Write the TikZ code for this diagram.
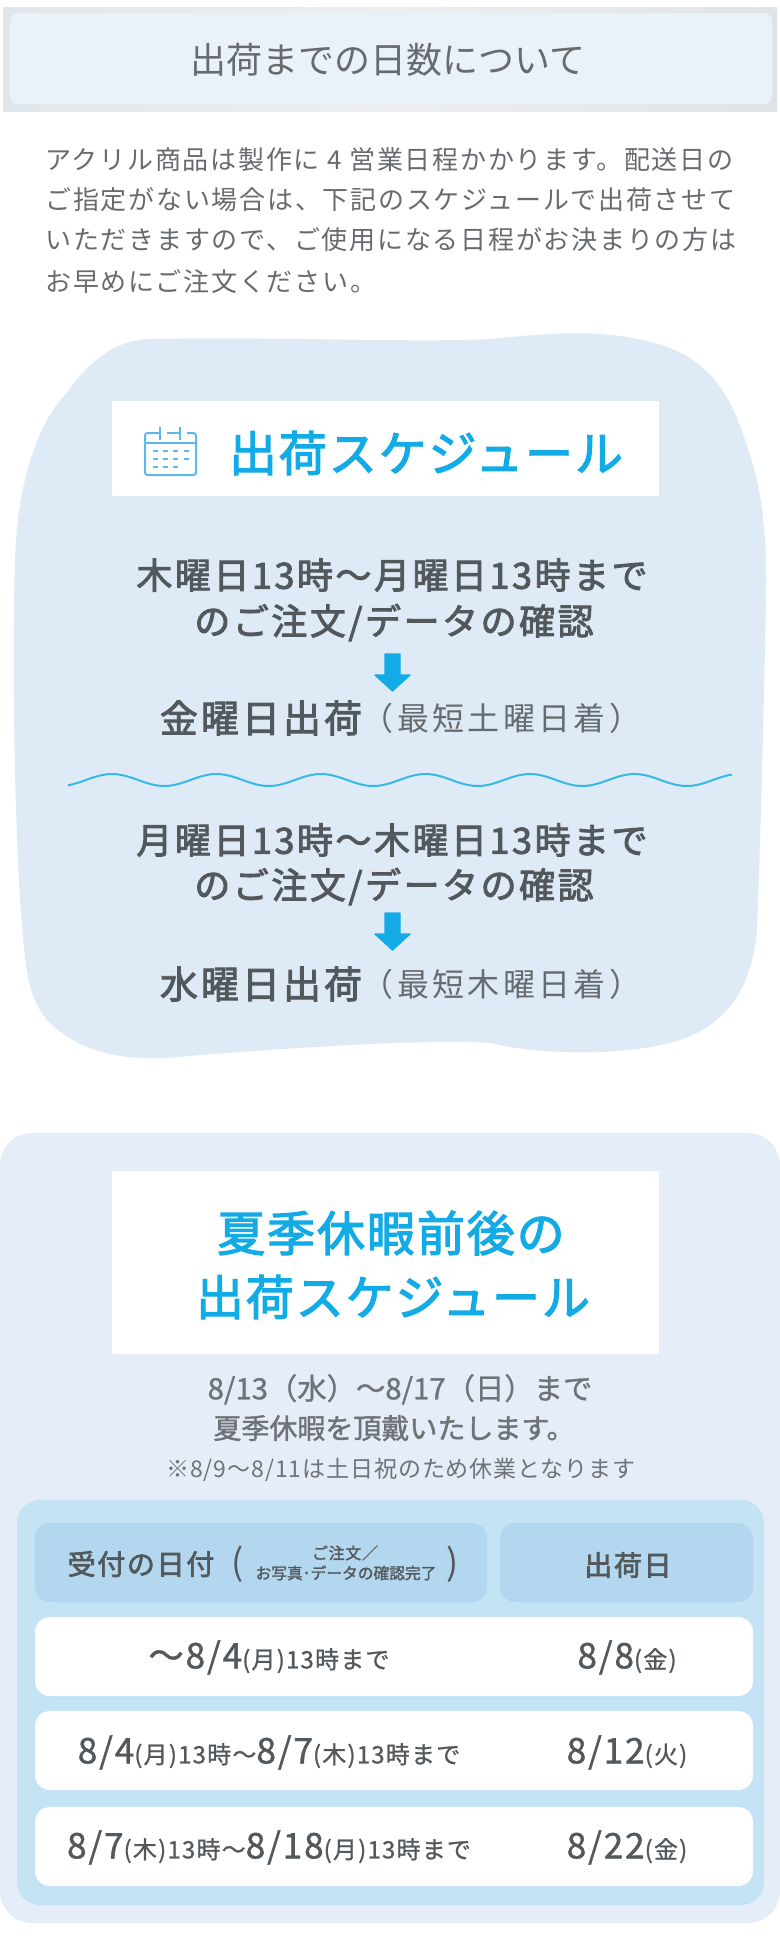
\documentclass[tikz,border=0pt]{standalone}
\usepackage{fontspec}
\setmainfont{Noto Sans CJK JP}
\newcommand{\pxfont}[2]{\fontsize{#1}{#1}\selectfont\addfontfeature{LetterSpace=#2}}
\newcommand{\pxbold}[3]{\fontsize{#1}{#1}\selectfont\addfontfeature{LetterSpace=#2,FakeBold=#3}}
\newcommand{\rowsub}[1]{{\fontsize{18}{18}\selectfont #1}}
\definecolor{inkdark}{HTML}{53585C}
\definecolor{inkgray}{HTML}{676B6F}
\definecolor{inksoft}{HTML}{6E7378}
\definecolor{skyblue}{HTML}{13ABE5}
\definecolor{iconblue}{HTML}{5DB6EC}
\definecolor{blobfill}{HTML}{DEEBF7}
\definecolor{cardfill}{HTML}{E5EDF8}
\definecolor{panelfill}{HTML}{C4E3F5}
\definecolor{headfill}{HTML}{B3D7EE}
\definecolor{bandleft}{HTML}{DFE7EE}
\definecolor{bandmid}{HTML}{EDEEF0}
\definecolor{bandright}{HTML}{E0E3E6}
\definecolor{bandinner}{HTML}{EAF2F9}
\tikzset{
  every picture/.style={line width=0.75pt},
  textnode/.style={inner sep=0pt,text=inkdark,execute at begin node={\rule[-.12em]{0pt}{1em}}},
  titletext/.style={textnode,text=inkgray,font=\pxfont{27}{0}},
  bodytext/.style={textnode,anchor=west,text=inkgray,font=\pxfont{19.5}{6.7}},
  bluetext/.style={textnode,text=skyblue,font=\pxbold{36}{4}{2.5}},
  boldline/.style={textnode,font=\pxbold{27}{7}{2.5}},
  shiptext/.style={textnode,font=\pxbold{28.5}{8}{2.5}},
  notetext/.style={textnode,text=inkgray,font=\pxfont{24}{10.5}},
  downarrow/.style={fill=skyblue,draw=skyblue,line width=1pt,line join=round},
  roundbox/.style={rounded corners=11.25pt},
  tablehead/.style={textnode,font=\pxbold{21}{6}{2.5}},
  rowtext/.style={textnode,font=\pxbold{26.5}{5}{1}},
}
\begin{document}
\begin{tikzpicture}[x=0.75pt,y=0.75pt,yscale=-1,xscale=1]
    \useasboundingbox (0,0) rectangle (780,1950);

    %Title band
    \shade [left color=bandleft,right color=bandright,middle color=bandmid] (3,7) rectangle (777,111);
    \fill [bandinner,rounded corners=6pt] (10,13) rectangle (772,104);

    %Shape: Blob
    \fill [blobfill] (150,339) .. controls (280,336) and (440,344) .. (500,338) .. controls (560,332) and (620,328) .. (675,350) .. controls (720,370) and (735,410) .. (745,440) .. controls (758,475) and (768,520) .. (766,600) .. controls (764,700) and (760,860) .. (757,930) .. controls (752,990) and (725,1025) .. (680,1040) .. controls (630,1056) and (545,1056) .. (490,1043) .. controls (430,1038) and (260,1050) .. (190,1056) .. controls (120,1064) and (80,1050) .. (52,1025) .. controls (25,1000) and (25,960) .. (20,900) .. controls (14,800) and (12,650) .. (15,560) .. controls (17,480) and (40,420) .. (65,395) .. controls (90,360) and (115,340) .. (150,339) -- cycle;

    %Heading box
    \fill [white] (112,401) rectangle (659,496);

    %Calendar icon
    \draw [iconblue,line width=1.5pt,rounded corners=2pt] (160,433) -- (145,433) -- (145,475) -- (196,475) -- (196,433) -- (187,433);
    \draw [iconblue,line width=1.5pt] (167,433) -- (180,433) (145,443) -- (196,443) (160,427) -- (160,440) (180,427) -- (180,440);
    \draw [iconblue,line width=1.5pt,dash pattern=on 3.75pt off 3.9pt] (153,451) -- (190,451);
    \draw [iconblue,line width=1.5pt,dash pattern=on 3.75pt off 3.9pt] (153,459) -- (190,459);
    \draw [iconblue,line width=1.5pt,dash pattern=on 3.75pt off 3.9pt] (153,467) -- (179,467);

    %Arrows
    \draw [downarrow] (385,654) -- (400,654) -- (400,675) -- (410,675) -- (392.5,691) -- (375,675) -- (385,675) -- cycle;
    \draw [downarrow] (385,913) -- (400,913) -- (400,934) -- (410,934) -- (392.5,950) -- (375,934) -- (385,934) -- cycle;

    %Wave
    \draw [color=skyblue!85!white,line width=1.5pt] plot [domain=68:732,samples=160] (\x,{780-6*cos((\x-112)/104.5*360)});

    %Holiday card
    \fill [cardfill,rounded corners=24pt] (0,1133) rectangle (780,1923);
    \fill [white] (112,1171) rectangle (659,1354);
    \fill [panelfill,rounded corners=17pt] (17,1500) rectangle (764,1905);
    \fill [headfill,roundbox] (35,1523) rectangle (487,1602);
    \fill [headfill,roundbox] (500,1523) rectangle (753,1602);
    \fill [white,roundbox] (35,1617) rectangle (753,1696);
    \fill [white,roundbox] (35,1711) rectangle (753,1790);
    \fill [white,roundbox] (35,1807) rectangle (753,1886);

    % Text Node
    \node (bandtitle) [titletext] at (388,60) {出荷までの日数について};
    \node (introa) [bodytext] at (45,160) {アクリル商品は製作に 4 営業日程かかります。配送日の};
    \node (introb) [bodytext] at (45,200) {ご指定がない場合は、下記のスケジュールで出荷させて};
    \node (introc) [bodytext] at (45,240) {いただきますので、ご使用になる日程がお決まりの方は};
    \node (introd) [bodytext] at (45,282) {お早めにご注文ください。};
    \node (heading) [bluetext] at (426,453) {出荷スケジュール};
    % Text Node
    \node (ordera) [boldline] at (392,575) {木曜日13時〜月曜日13時まで};
    \node (checka) [boldline] at (394,622) {のご注文/データの確認};
    \node (shipa) [shiptext] at (261,718) {金曜日出荷};
    \node (arrivea) [notetext] at (501.5,718) {（最短土曜日着）};
    % Text Node
    \node (orderb) [boldline] at (392,840) {月曜日13時〜木曜日13時まで};
    \node (checkb) [boldline] at (394,886) {のご注文/データの確認};
    \node (shipb) [shiptext] at (261,984) {水曜日出荷};
    \node (arriveb) [notetext] at (501.5,984) {（最短木曜日着）};
    % Text Node
    \node (holidaya) [bluetext] at (391,1233) {夏季休暇前後の};
    \node (holidayb) [bluetext] at (393,1297) {出荷スケジュール};
    \node (closeda) [textnode,text=inksoft,font=\pxbold{22}{0}{1}] at (400,1389) {8/13（水）〜8/17（日）まで};
    \node (closedb) [textnode,text=inksoft,font=\pxbold{21}{0}{1.5}] at (394,1428) {夏季休暇を頂戴いたします。};
    \node (closedc) [textnode,text=inksoft,font=\pxfont{17.25}{4}] at (401,1469) {※8/9〜8/11は土日祝のため休業となります};
    % Text Node
    \node (headdate) [tablehead] at (141,1564) {受付の日付};
    \node (parenl) [textnode,font=\pxfont{27}{0}] at (238,1563) {(};
    \node (headnotea) [textnode,font=\pxbold{12}{4}{1.5}] at (345,1553) {ご注文／};
    \node (headnoteb) [textnode,font=\pxbold{11.8}{0}{1.5}] at (346,1573) {お写真･データの確認完了};
    \node (parenr) [textnode,font=\pxfont{27}{0}] at (453,1563) {)};
    \node (headship) [tablehead] at (628,1565) {出荷日};
    % Text Node
    \node (rowa) [rowtext] at (269,1656) {〜8/4\rowsub{(月)13時まで}};
    \node (shiprowa) [rowtext] at (627,1656) {8/8\rowsub{(金)}};
    \node (rowb) [rowtext] at (269,1751) {8/4\rowsub{(月)13時〜}8/7\rowsub{(木)13時まで}};
    \node (shiprowb) [rowtext] at (627,1751) {8/12\rowsub{(火)}};
    \node (rowc) [rowtext] at (269,1846) {8/7\rowsub{(木)13時〜}8/18\rowsub{(月)13時まで}};
    \node (shiprowc) [rowtext] at (627,1846) {8/22\rowsub{(金)}};
\end{tikzpicture}
\end{document}
